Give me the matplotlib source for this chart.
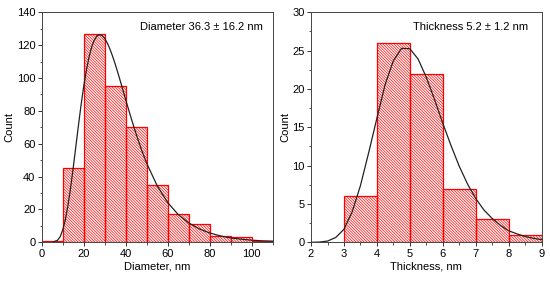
import matplotlib
matplotlib.use("Agg")
import matplotlib.pyplot as plt
from matplotlib.ticker import MultipleLocator

plt.rcParams['font.family'] = ['Liberation Sans', 'DejaVu Sans']
plt.rcParams['hatch.color'] = '#ff2020'
plt.rcParams['hatch.linewidth'] = 0.5

# diameter histogram (bin edges, counts)
diam_edges = [0, 10, 20, 30, 40, 50, 60, 70, 80, 90, 100, 110]
diam_counts = [1, 45, 127, 95, 70, 35, 17, 11, 4, 3, 1]
# fitted curve
diam_fit_x = [5, 7.5, 8.75, 10, 11.25, 12.5, 13.75, 15, 16.25, 17.5, 18.75, 20, 21.25, 22.5,
              23.75, 25, 26.25, 27.5, 28.75, 30, 31.25, 32.5, 33.75, 35, 36.25, 37.5, 38.75, 40,
              42.5, 45, 47.5, 50, 55, 60, 65, 70, 75, 80, 85, 90, 95, 100, 105, 110]
diam_fit_y = [0.0, 1.2, 3.3, 7.4, 13.7, 22.4, 33.0, 45.2, 58.2, 71.1, 83.6, 94.8, 104.5, 112.5,
              118.7, 123.0, 125.5, 126.4, 125.9, 124.1, 121.3, 117.6, 113.3, 108.5, 103.3, 97.9, 92.4, 86.8,
              76.0, 65.8, 56.4, 48.1, 34.4, 24.2, 16.9, 11.8, 8.2, 5.7, 3.9, 2.7, 1.9, 1.3, 0.9, 0.7]

# thickness histogram
thick_edges = [3, 4, 5, 6, 7, 8, 9]
thick_counts = [6, 26, 22, 7, 3, 1]
thick_fit_x = [2.0, 2.25, 2.5, 2.75, 3.0, 3.25, 3.5, 3.75, 4.0, 4.25, 4.5, 4.75, 5.0, 5.25,
               5.5, 5.75, 6.0, 6.25, 6.5, 6.75, 7.0, 7.25, 7.5, 7.75, 8.0, 8.25, 8.5, 8.75, 9.0]
thick_fit_y = [0.0, 0.03, 0.16, 0.63, 1.7, 4.0, 7.4, 11.7, 16.2, 20.6, 23.7, 25.3, 25.25, 23.9,
               21.5, 18.6, 15.5, 12.6, 9.9, 7.6, 5.7, 4.2, 3.1, 2.2, 1.5, 1.1, 0.75, 0.52, 0.35]


def panel(ax, edges, counts, fx, fy, xlim, ylim, xmaj, xmin, ymaj, ymin, xlabel, note):
    widths = [edges[i + 1] - edges[i] for i in range(len(counts))]
    ax.bar(edges[:-1], counts, width=widths, align='edge', facecolor='none',
           edgecolor='red', linewidth=0.9, hatch='\\' * 12)
    ax.plot(fx, fy, color='#222222', linewidth=0.9)
    ax.set_xlim(xlim)
    ax.set_ylim(ylim)
    ax.xaxis.set_major_locator(MultipleLocator(xmaj))
    ax.xaxis.set_minor_locator(MultipleLocator(xmin))
    ax.yaxis.set_major_locator(MultipleLocator(ymaj))
    ax.yaxis.set_minor_locator(MultipleLocator(ymin))
    ax.tick_params(which='major', length=3, width=0.7, labelsize=8, pad=1.5, colors='#333333',
                   labelcolor='black')
    ax.tick_params(which='minor', length=1.8, width=0.6, colors='#333333')
    for s in ax.spines.values():
        s.set_linewidth(0.7)
        s.set_color('#444444')
    ax.set_xlabel(xlabel, fontsize=8, labelpad=2)
    ax.set_ylabel('Count', fontsize=8, labelpad=1.5)
    ax.text(0.69, 0.935, note, transform=ax.transAxes, fontsize=8, ha='center', va='center')


fig = plt.figure(figsize=(5.5, 2.83), dpi=100)
ax1 = fig.add_axes([0.0758, 0.1438, 0.42, 0.8127])
ax2 = fig.add_axes([0.5655, 0.1438, 0.4194, 0.8127])

panel(ax1, diam_edges, diam_counts, diam_fit_x, diam_fit_y, (0, 110), (0, 140),
      20, 10, 20, 10, 'Diameter, nm', 'Diameter 36.3 \u00b1 16.2 nm')
panel(ax2, thick_edges, thick_counts, thick_fit_x, thick_fit_y, (2, 9), (0, 30),
      1, 0.5, 5, 2.5, 'Thickness, nm', 'Thickness 5.2 \u00b1 1.2 nm')

fig.savefig('out.png', dpi=100)
